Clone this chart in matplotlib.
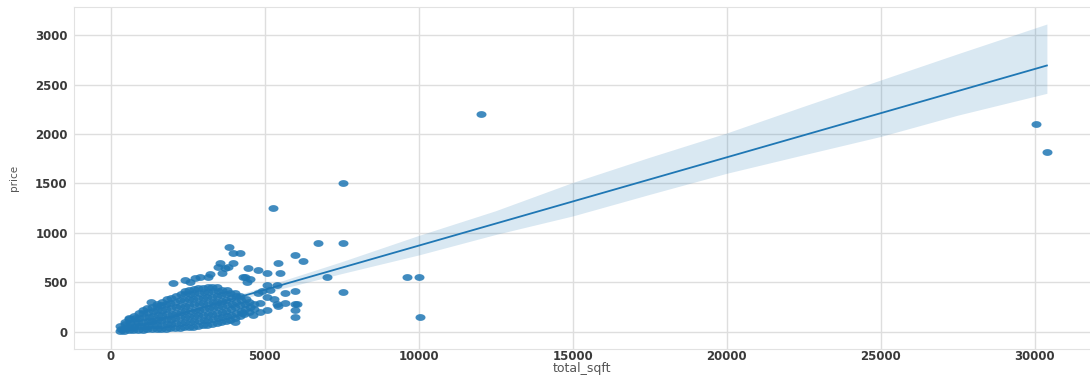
import numpy as np
import matplotlib
matplotlib.use("Agg")
import matplotlib.pyplot as plt
from matplotlib.path import Path

# dense block of listings (total_sqft, price)
core_sqft = [300, 330, 310,
             440, 470, 450, 480,
             600, 590, 620, 610,
             740, 770, 750, 780, 760,
             890, 920, 900, 930, 910,
             1040, 1070, 1050, 1080, 1060, 1040,
             1190, 1220, 1200, 1230, 1210, 1190,
             1340, 1370, 1350, 1380, 1360, 1340,
             1490, 1520, 1500, 1530, 1510, 1490, 1520,
             1640, 1670, 1650, 1680, 1660, 1640, 1670,
             1790, 1820, 1800, 1830, 1810, 1790, 1820,
             1940, 1970, 1950, 1980, 1960, 1940, 1970,
             2090, 2120, 2100, 2130, 2110, 2090, 2120,
             2240, 2270, 2250, 2280, 2260, 2240, 2270,
             2390, 2420, 2400, 2430, 2410, 2390, 2420, 2400,
             2540, 2570, 2550, 2580, 2560, 2540, 2570, 2550,
             2690, 2720, 2700, 2730, 2710, 2690, 2720, 2700,
             2840, 2870, 2850, 2880, 2860, 2840, 2870, 2850,
             2990, 3020, 3000, 3030, 3010, 2990, 3020, 3000,
             3140, 3170, 3150, 3180, 3160, 3140, 3170, 3150,
             3290, 3320, 3300, 3330, 3310, 3290, 3320, 3300,
             3440, 3470, 3450, 3480, 3460, 3440, 3470, 3450,
             3590, 3620, 3600, 3630, 3610, 3590, 3620,
             3740, 3770, 3750, 3780, 3760, 3740, 3770,
             3890, 3920, 3900, 3930, 3910, 3890,
             4040, 4070, 4050, 4080, 4060, 4040,
             4190, 4220, 4200, 4230, 4210,
             4340, 4370, 4350, 4380,
             4490, 4520, 4500,
             4640, 4670]
core_price = [10, 35, 60,
              10, 45, 80, 105,
              15, 50, 90, 130,
              15, 55, 100, 140, 165,
              20, 60, 100, 145, 190,
              20, 60, 105, 150, 190, 225,
              25, 65, 110, 155, 200, 245,
              25, 70, 115, 160, 210, 255,
              30, 75, 120, 170, 220, 265, 285,
              30, 75, 125, 175, 225, 270, 305,
              35, 80, 130, 180, 230, 280, 330,
              40, 85, 135, 185, 240, 290, 345,
              45, 90, 140, 195, 250, 305, 365,
              45, 95, 150, 205, 260, 320, 385,
              50, 100, 155, 210, 265, 325, 380, 410,
              55, 105, 160, 215, 270, 330, 385, 420,
              55, 110, 165, 220, 280, 335, 390, 430,
              60, 115, 170, 225, 285, 340, 395, 440,
              70, 120, 175, 230, 290, 345, 400, 445,
              75, 125, 180, 240, 295, 350, 405, 450,
              80, 130, 185, 245, 300, 355, 410, 455,
              90, 140, 195, 250, 305, 360, 410, 450,
              100, 150, 205, 260, 315, 370, 420,
              110, 160, 215, 270, 325, 380, 425,
              120, 175, 230, 285, 340, 395,
              140, 195, 250, 305, 360, 390,
              160, 215, 270, 320, 365,
              185, 235, 285, 335,
              205, 255, 305,
              235, 280]

# scattered listings away from the main block
spread_sqft = [12040, 30040, 30420, 7530, 5280, 6740, 7530, 5985, 6230, 7040,
               7530, 9610, 10020, 10040, 5985, 5985, 5985, 5985, 5660, 5390,
               5440, 5500, 5065, 5390, 5660, 5170, 5065, 4790, 4850, 5065,
               4850, 4630, 4250, 4040, 3980, 4200, 3850, 3980, 4470, 4790,
               5065, 3550, 3500, 3220, 2900, 2750, 2030, 2410, 2575, 3170,
               3600, 4360, 4520, 4300, 4415, 3700, 3800, 6040, 5440, 1300,
               600, 4900, 5300]
spread_price = [2200, 2100, 1820, 1500, 1250, 900, 900, 778, 717, 553,
                400, 553, 553, 148, 414, 280, 219, 152, 296, 280,
                694, 593, 475, 475, 390, 424, 357, 390, 290, 222,
                205, 172, 189, 104, 795, 801, 862, 694, 643, 626,
                599, 694, 660, 586, 559, 550, 498, 525, 508, 553,
                593, 559, 532, 553, 508, 650, 660, 283, 265, 300,
                138, 410, 330]

# fitted trend with its 95% band
fit_sqft = [300, 2500, 5000, 7500, 10000, 12500, 15000, 17500, 20000, 22500, 25000, 27500, 30400]
fit_price = [7, 203, 426, 649, 872, 1095, 1318, 1541, 1764, 1987, 2210, 2433, 2692]
fit_upper = [25, 215, 460, 710, 975, 1225, 1510, 1765, 2010, 2280, 2545, 2810, 3111]
fit_lower = [-10, 192, 395, 590, 778, 985, 1172, 1390, 1603, 1790, 1975, 2190, 2411]

x_ticks = [0, 5000, 10000, 15000, 20000, 25000, 30000]
y_ticks = [0, 500, 1000, 1500, 2000, 2500, 3000]

blue = "#1f77b4"

# slightly flattened dot
t = np.linspace(0, 2 * np.pi, 41)
dot = Path(np.column_stack([np.cos(t), 0.68 * np.sin(t)]), closed=True)

fig = plt.figure(figsize=(10.9, 3.76), dpi=100)
ax = fig.add_axes([74 / 1090, 27 / 376, 1016 / 1090, 342 / 376])

ax.scatter(core_sqft + spread_sqft, core_price + spread_price, s=52, marker=dot,
           color=blue, alpha=0.85, linewidths=0, zorder=2)
ax.fill_between(fit_sqft, fit_lower, fit_upper, color=blue, alpha=0.17, lw=0, zorder=3)
ax.plot(fit_sqft, fit_price, color=blue, lw=1.3, zorder=4)

ax.set_xlim(-1190, 31800)
ax.set_ylim(-172, 3283)
ax.set_xticks(x_ticks)
ax.set_yticks(y_ticks)

ax.grid(True, color="#dedede", lw=1)
ax.set_axisbelow(True)
for side in ["left", "top", "bottom", "right"]:
    ax.spines[side].set_color("#e2e2e2")
ax.spines["right"].set_visible(False)

ax.tick_params(axis="both", length=0, labelsize=8.5, labelcolor="#3a3a3a")
ax.tick_params(axis="x", pad=1)
ax.tick_params(axis="y", pad=4.5)
for lab in ax.get_xticklabels() + ax.get_yticklabels():
    lab.set_fontweight("bold")

ax.set_xlabel("total_sqft", fontsize=9, color="#555555")
ax.set_ylabel("price", fontsize=7.5, color="#555555")
ax.xaxis.set_label_coords(0.5, -0.039)
ax.yaxis.set_label_coords(-0.054, 0.5)

fig.savefig("out.png", dpi=100)
